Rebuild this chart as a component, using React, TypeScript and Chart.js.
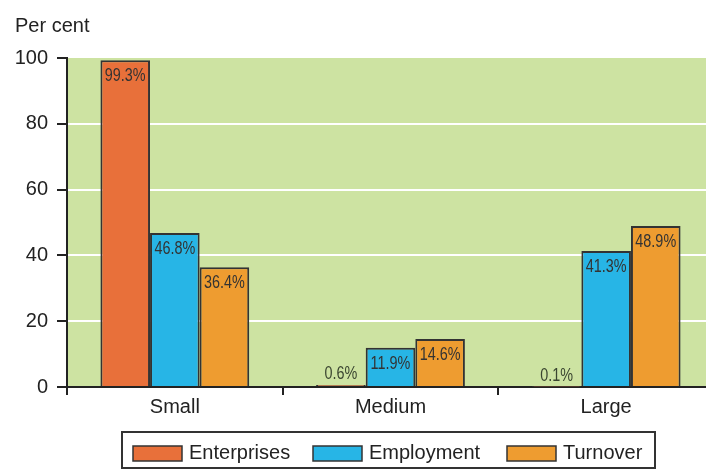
import React, { useEffect, useRef } from "react";
import { Chart, registerables } from "chart.js";

Chart.register(...registerables);

const categories = ["Small", "Medium", "Large"];
const enterprises = [99.3, 0.6, 0.1];
const employment = [46.8, 11.9, 41.3];
const turnover = [36.4, 14.6, 48.9];
const seriesNames = ["Enterprises", "Employment", "Turnover"];
const seriesColors = ["#E8703A", "#27B5E6", "#EE9C30"];
const yTicks = [0, 20, 40, 60, 80, 100];
const yTitle = "Per cent";

const FONT = "'Liberation Sans', Arial, Helvetica, sans-serif";

const bgPlugin = {
  id: "bgPlugin",
  beforeDraw(chart: any) {
    const { ctx, chartArea } = chart;
    ctx.save();
    ctx.fillStyle = "#CDE3A2";
    ctx.fillRect(chartArea.left, chartArea.top, chartArea.right - chartArea.left, chartArea.bottom - chartArea.top);
    ctx.restore();
  },
  afterDraw(chart: any) {
    const { ctx } = chart;
    ctx.save();
    ctx.fillStyle = "#222";
    ctx.font = `20px ${FONT}`;
    ctx.textBaseline = "alphabetic";
    ctx.textAlign = "left";
    ctx.fillText(yTitle, 15, 32);
    ctx.strokeStyle = "#333";
    ctx.lineWidth = 2;
    ctx.strokeRect(122, 432, 533, 36);
    const swX = [133, 313, 507];
    seriesNames.forEach((name, i) => {
      ctx.fillStyle = seriesColors[i];
      ctx.fillRect(swX[i], 446, 49, 15);
      ctx.strokeStyle = "#333";
      ctx.lineWidth = 1.5;
      ctx.strokeRect(swX[i], 446, 49, 15);
      ctx.fillStyle = "#222";
      ctx.font = `20px ${FONT}`;
      ctx.textBaseline = "middle";
      ctx.fillText(name, swX[i] + 56, 453);
    });
    ctx.restore();
  },
};

const labelPlugin = {
  id: "labelPlugin",
  afterDatasetsDraw(chart: any) {
    const { ctx } = chart;
    ctx.save();
    ctx.font = `18px ${FONT}`;
    ctx.textAlign = "center";
    chart.data.datasets.forEach((ds: any, di: number) => {
      const meta = chart.getDatasetMeta(di);
      meta.data.forEach((bar: any, i: number) => {
        const v = ds.data[i];
        const txt = v.toFixed(1) + "%";
        ctx.save();
        ctx.translate(bar.x, bar.y);
        ctx.scale(0.8, 1);
        if (v > 5) {
          ctx.fillStyle = "#333";
          ctx.textBaseline = "top";
          ctx.fillText(txt, 0, 7);
        } else {
          ctx.fillStyle = "#3A4530";
          ctx.textBaseline = "alphabetic";
          ctx.fillText(txt, 0, -6);
        }
        ctx.restore();
      });
    });
    ctx.restore();
  },
};

export default function App() {
  const ref = useRef<HTMLCanvasElement | null>(null);
  useEffect(() => {
    if (!ref.current) return;
    const data = [enterprises, employment, turnover];
    const chart = new Chart(ref.current, {
      type: "bar",
      data: {
        labels: categories,
        datasets: seriesNames.map((n, i) => ({
          label: n,
          data: data[i],
          backgroundColor: seriesColors[i],
          borderColor: "#333",
          borderWidth: 2,
          barPercentage: 1,
          categoryPercentage: 0.69,
        })),
      },
      options: {
        animation: false,
        responsive: false,
        maintainAspectRatio: false,
        layout: { padding: { left: 0, right: 6, top: 58, bottom: 53 } },
        plugins: { legend: { display: false }, tooltip: { enabled: false }, title: { display: false } },
        scales: {
          x: {
            afterFit: (s: any) => { s.height = 30; },
            grid: { drawOnChartArea: false, color: "#222", lineWidth: 2, tickLength: 8, offset: true },
            border: { color: "#222", width: 2 },
            ticks: { color: "#222", font: { family: FONT, size: 20 }, padding: 0 },
          },
          y: {
            min: 0,
            max: 100,
            afterFit: (s: any) => { s.width = 67; },
            afterBuildTicks: (s: any) => { s.ticks = yTicks.map((v) => ({ value: v })); },
            grid: {
              color: (c: any) => (c.tick && (c.tick.value === 0 || c.tick.value === 100) ? "rgba(0,0,0,0)" : "#FFFFFF"),
              lineWidth: 2,
              tickColor: "#222",
              tickWidth: 2,
              tickLength: 10,
            },
            border: { color: "#222", width: 2 },
            ticks: { color: "#222", font: { family: FONT, size: 20 }, padding: 9, stepSize: 20 },
          },
        },
      },
      plugins: [bgPlugin, labelPlugin],
    });
    return () => chart.destroy();
  }, []);
  return (
    <div style={{ position: "fixed", left: 0, top: 0, width: 706, height: 470, overflow: "hidden", background: "#fff" }}>
      <canvas ref={ref} width={720} height={470} style={{ display: "block", width: 720, height: 470 }} />
    </div>
  );
}
